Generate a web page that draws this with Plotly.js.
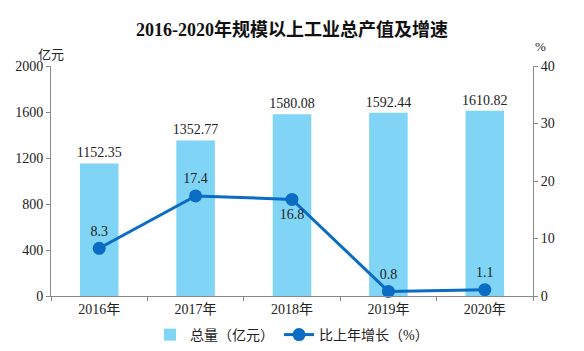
<!DOCTYPE html>
<html><head><meta charset="utf-8">
<script src="https://cdn.plot.ly/plotly-3.0.1.min.js"></script>
<style>body{margin:0;padding:0;}#c{width:584px;height:351px;}</style>
</head><body><div id="c"></div>
<script>
const years = ['2016年','2017年','2018年','2019年','2020年'];
const totals = [1152.35, 1352.77, 1580.08, 1592.44, 1610.82];
const growth = [8.3, 17.4, 16.8, 0.8, 1.1];
const growthPos = ['top center','top center','bottom center','top center','top center'];
const FONT = 'Liberation Serif, Noto Sans CJK SC, serif';

const data = [
  {type:'bar', x:years, y:totals, name:'总量（亿元）', width:0.4,
   marker:{color:'#80D4F6'}, text:totals.map(v=>v.toFixed(2)), textposition:'outside',
   constraintext:'none',
   textfont:{size:14, color:'#222', family:FONT}, cliponaxis:false},
  {type:'scatter', mode:'lines+markers+text', x:years, y:growth, yaxis:'y2', name:'比上年增长（%）',
   line:{color:'#0A6CC2', width:3}, marker:{color:'#0A6CC2', size:13},
   text:growth.map(v=>v.toFixed(1)), textposition:growthPos,
   textfont:{size:14, color:'#222', family:FONT}, cliponaxis:false}
];
const layout = {
  width:584, height:351, margin:{l:51, r:51, t:66, b:55, autoexpand:false},
  paper_bgcolor:'#fff', plot_bgcolor:'#fff',
  font:{family:FONT, size:14, color:'#222'},
  title:{text:'<b>2016-2020年规模以上工业总产值及增速</b>', x:0.5, xanchor:'center', y:0.915, yanchor:'middle',
         font:{size:18, color:'#111', family:FONT}},
  showlegend:true,
  legend:{orientation:'h', x:0.5, xanchor:'center', y:-0.1, yanchor:'top', font:{size:14}, itemwidth:30},
  xaxis:{showline:true, linecolor:'#888', linewidth:1, ticks:'outside', tickcolor:'#888', ticklen:4,
         tickson:'boundaries', showgrid:false, tickfont:{size:14}},
  yaxis:{range:[0,2000], dtick:400, showline:true, linecolor:'#888', ticks:'outside', tickcolor:'#888', ticklen:4,
         showgrid:false, zeroline:false, tickfont:{size:14}},
  yaxis2:{range:[0,40], dtick:10, overlaying:'y', side:'right', showline:true, linecolor:'#888',
          ticks:'outside', tickcolor:'#888', ticklen:4, showgrid:false, zeroline:false, tickfont:{size:14}},
  annotations:[
    {text:'亿元', xref:'paper', yref:'paper', x:0, y:1, xanchor:'center', yanchor:'bottom', yshift:2, showarrow:false, font:{size:13}},
    {text:'%', xref:'paper', yref:'paper', x:1.015, y:1, xanchor:'center', yanchor:'bottom', yshift:10, showarrow:false, font:{size:13}}
  ]
};
Plotly.newPlot('c', data, layout, {displayModeBar:false, staticPlot:true});
</script></body></html>
